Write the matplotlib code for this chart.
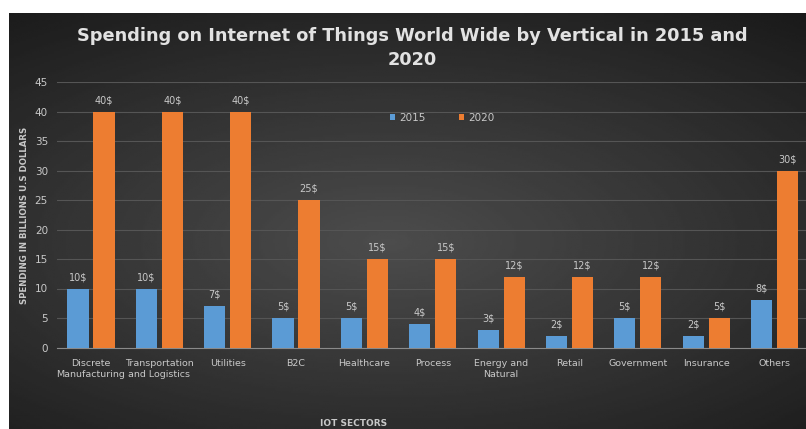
import numpy as np
from matplotlib import pyplot as plt

sectors = ['Discrete\nManufacturing', 'Transportation\nand Logistics', 'Utilities', 'B2C',
           'Healthcare', 'Process', 'Energy and\nNatural', 'Retail', 'Government',
           'Insurance', 'Others']
spend_2015 = [10, 10, 7, 5, 5, 4, 3, 2, 5, 2, 8]
spend_2020 = [40, 40, 40, 25, 15, 15, 12, 12, 12, 5, 30]

blue = '#5b9bd5'
orange = '#ed7d31'
txt = '#c8c8c8'

W, H = 806, 429
fig = plt.figure(figsize=(W/100, H/100), dpi=100, facecolor='white')

# dark radial background, white strip on top and left
bg = fig.add_axes([9/W, 0, 1 - 9/W, 1 - 13/H])
yy, xx = np.mgrid[-1:1:200j, -1:1:400j]
r = np.sqrt(((xx + 0.05) * 0.85) ** 2 + ((yy - 0.1) * 1.0) ** 2)
bg.imshow(0.30 - 0.14 * r, cmap='gray', vmin=0, vmax=1, aspect='auto',
          extent=[0, 1, 0, 1])
bg.axis('off')

# axes: y=0 at 347px, y=45 at 82px, x from 57px to right edge
ax = fig.add_axes([57/W, 1 - 347.5/H, 1 - 57/W, (347.5 - 82)/H])
ax.patch.set_alpha(0)

x = np.arange(len(sectors))
w = 0.31
off = 0.19
b1 = ax.bar(x - off, spend_2015, w, color=blue, label='2015', zorder=3)
b2 = ax.bar(x + off, spend_2020, w, color=orange, label='2020', zorder=3)

for bars, vals in ((b1, spend_2015), (b2, spend_2020)):
	for b, v in zip(bars, vals):
		ax.text(b.get_x() + b.get_width()/2, v + 1.1, '%d$' % v, ha='center',
		        va='bottom', color=txt, fontsize=7)

ax.set_ylim(0, 45)
ax.set_xlim(-0.497, 10.46)
ax.set_yticks(range(0, 46, 5))
ax.grid(axis='y', color='#555555', linewidth=0.8, zorder=0)
ax.set_xticks(x)
ax.set_xticklabels(sectors, color=txt, fontsize=6.8, linespacing=1.3)
ax.tick_params(axis='y', colors=txt, labelsize=7.5, length=0, pad=6.5)
ax.tick_params(axis='x', length=0, pad=8)
for s in ['top', 'right', 'left']:
	ax.spines[s].set_visible(False)
ax.spines['bottom'].set_color('#8a8a8a')

fig.text(25/W, 1 - 215/H, 'SPENDING IN BILLIONS U.S DOLLARS', color=txt,
         fontsize=6.2, fontweight='bold', rotation=90, ha='center', va='center')

fig.text(354/W, 1 - 423/H, 'IOT SECTORS', color=txt, fontsize=6.5,
         fontweight='bold', ha='center', va='center')

fig.text(412/W, 1 - 48/H, 'Spending on Internet of Things World Wide by Vertical in 2015 and\n2020',
         color='#e2e2e2', fontsize=12.8, fontweight='bold', ha='center',
         va='center', linespacing=1.45)

leg = ax.legend(loc='center', bbox_to_anchor=((442 - 57)/749, (347.5 - 118)/265.5),
                ncol=2, frameon=False, fontsize=7.5, labelcolor=txt,
                handlelength=0.55, handleheight=0.55, columnspacing=3.2,
                handletextpad=0.35)

fig.savefig('out.png', dpi=100, facecolor='white')
